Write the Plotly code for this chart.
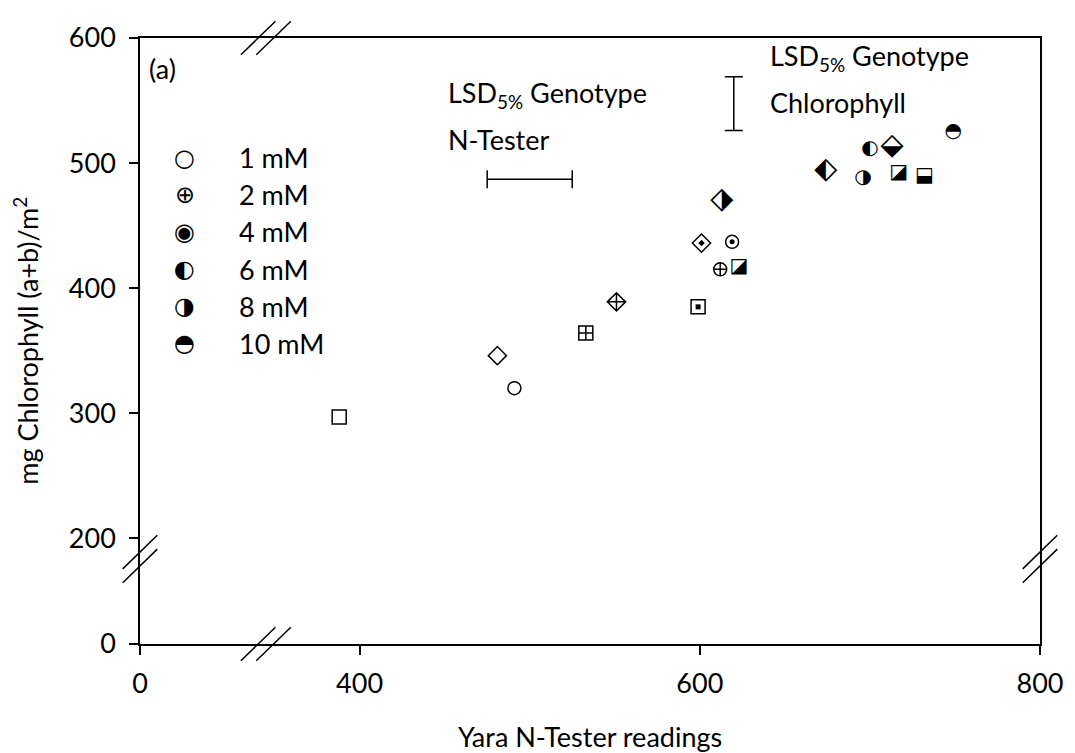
import plotly.graph_objects as go

# ---------------- data ----------------
levels = ["1 mM", "2 mM", "4 mM", "6 mM", "8 mM", "10 mM"]

# genotype A (circles)
circle_x = [491, 612, 619, 700, 696, 749]
circle_y = [320, 415, 437, 511, 488, 525]
# genotype B (diamonds)
diamond_x = [481, 551, 601, 674, 613, 713]
diamond_y = [346, 389, 436, 494, 470, 513]
# genotype C (squares)
square_x = [388, 533, 599, 623, 717, 732]
square_y = [297, 364, 385, 417, 492, 490]

# least significant differences (5 %)
lsd_ntester = 50
lsd_chlorophyll = 43

x_ticks = [0, 400, 600, 800]
y_ticks = [0, 200, 300, 400, 500, 600]

# ---------------- layout constants ----------------
FONT = "Lato"
FS = 27
GLYPH_FONT = "DejaVu Sans"
X_BREAK_VAL = 270.9      # axis value drawn at the left edge (broken axis, labelled 0)
Y_BREAK_VAL = 115.4      # axis value drawn at the bottom edge (broken axis, labelled 0)
X_MAX, Y_MAX = 800, 600

half_glyph_circle = ["\u25D0", "\u25D1", "\u25D3"]   # 6, 8, 10 mM
half_glyph_diamond = ["\u2B16", "\u2B17", "\u2B19"]
half_glyph_square = ["\u25EA", "\u25EA", "\u2B13"]

fig = go.Figure()

def add_basic(xs, ys, shape, size):
    # 1 mM open, 2 mM cross, 4 mM open + dot
    fig.add_trace(go.Scatter(x=[xs[0]], y=[ys[0]], mode="markers",
                             marker=dict(symbol=shape + "-open", size=size, color="black",
                                         line=dict(width=1.5, color="black"))))
    fig.add_trace(go.Scatter(x=[xs[1]], y=[ys[1]], mode="markers",
                             marker=dict(symbol=shape + "-cross-open", size=size, color="black",
                                         line=dict(width=1.5, color="black"))))
    fig.add_trace(go.Scatter(x=[xs[2]], y=[ys[2]], mode="markers",
                             marker=dict(symbol=shape + "-open", size=size, color="black",
                                         line=dict(width=1.5, color="black"))))
    fig.add_trace(go.Scatter(x=[xs[2]], y=[ys[2]], mode="markers",
                             marker=dict(symbol=shape, size=5, color="black", line=dict(width=0))))

def add_half(xs, ys, glyphs, fsize):
    fig.add_trace(go.Scatter(x=xs[3:], y=ys[3:], mode="text", text=glyphs,
                             textposition="middle center",
                             textfont=dict(family=GLYPH_FONT, size=fsize, color="black")))

add_basic(circle_x, circle_y, "circle", 13)
add_basic(diamond_x, diamond_y, "diamond", 14)
add_basic(square_x, square_y, "square", 14)
add_half(circle_x, circle_y, half_glyph_circle, 20)
add_half(diamond_x, diamond_y, half_glyph_diamond, 30)
add_half(square_x, square_y, half_glyph_square, 20)

# LSD bars
fig.add_trace(go.Scatter(x=[500], y=[487], mode="markers",
                         marker=dict(size=1, color="rgba(0,0,0,0)"),
                         error_x=dict(type="data", array=[lsd_ntester / 2], symmetric=True,
                                      color="black", thickness=1.5, width=9)))
fig.add_trace(go.Scatter(x=[620], y=[547.5], mode="markers",
                         marker=dict(size=1, color="rgba(0,0,0,0)"),
                         error_y=dict(type="data", array=[lsd_chlorophyll / 2], symmetric=True,
                                      color="black", thickness=1.5, width=9)))

x_tickvals = [X_BREAK_VAL if v == 0 else v for v in x_ticks]
y_tickvals = [Y_BREAK_VAL if v == 0 else v for v in y_ticks]

axis_common = dict(showgrid=False, zeroline=False, showline=True, linecolor="black",
                   linewidth=1.5, mirror=True, ticks="outside", ticklen=9, tickwidth=1.5,
                   tickcolor="black", tickfont=dict(family=FONT, size=FS, color="black"))
fig.update_xaxes(range=[X_BREAK_VAL, X_MAX], tickvals=x_tickvals, ticklabelstandoff=6,
                 ticktext=[str(v) for v in x_ticks], **axis_common)
fig.update_yaxes(range=[Y_BREAK_VAL, Y_MAX], tickvals=y_tickvals, ticklabelstandoff=8,
                 ticktext=[str(v) for v in y_ticks], **axis_common)

ann = []
def txt(x, y, s, size=FS, xanchor="left", angle=0, font=FONT):
    ann.append(dict(x=x, y=y, xref="paper", yref="paper", text=s, showarrow=False,
                    xanchor=xanchor, yanchor="middle", textangle=angle,
                    font=dict(family=font, size=size, color="black")))

txt(0.5, -0.152, "Yara N-Tester readings", xanchor="center")
txt(-0.127, 0.5, "mg Chlorophyll (a+b)/m<sup>2</sup>", xanchor="center", angle=-90)
txt(0.0077, 0.9494, "(a)")
txt(0.340, 0.9074, "LSD<sub>5%</sub> Genotype")
txt(0.340, 0.8326, "N-Tester")
txt(0.6975, 0.9674, "LSD<sub>5%</sub> Genotype")
txt(0.6975, 0.8933, "Chlorophyll")

legend_glyphs = ["\u25CB", "\u2295", "\u25C9", "\u25D0", "\u25D1", "\u25D3"]
for i, (g, lab) in enumerate(zip(legend_glyphs, levels)):
    yy = 0.8026 - i * 0.0613
    txt(0.0495, yy, g, size=24, xanchor="center", font=GLYPH_FONT)
    txt(0.1077, yy, lab)

# axis break marks
shapes = []
def slash(cx, cy, dx=0.0192, dy=0.0277):
    shapes.append(dict(type="line", xref="paper", yref="paper",
                       x0=cx - dx, y0=cy - dy, x1=cx + dx, y1=cy + dy,
                       line=dict(color="black", width=1.5)))
for cx in (0.1313, 0.1484):
    slash(cx, 1.0)
    slash(cx, 0.0)
for cy in (0.1517, 0.1289):
    slash(0.0, cy)
    slash(1.0, cy)

# the page adds an 8px body margin, so the figure is 8px smaller on each axis
fig.update_layout(width=1067, height=745, showlegend=False,
                  margin=dict(l=132, r=25, t=23, b=109),
                  paper_bgcolor="white", plot_bgcolor="white",
                  font=dict(family=FONT, size=FS, color="black"),
                  annotations=ann, shapes=shapes)

fig.write_html("out.html")
